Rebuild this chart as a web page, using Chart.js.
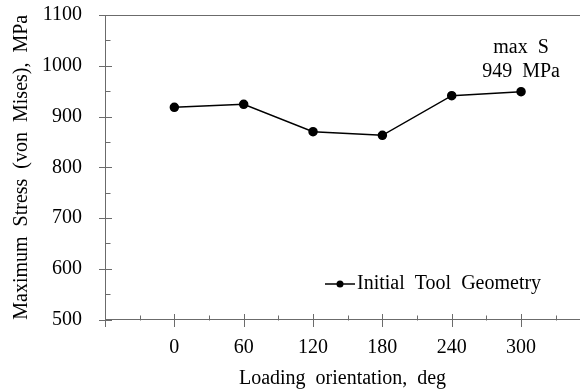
<!DOCTYPE html>
<html>
<head>
<meta charset="utf-8">
<script src="https://cdn.jsdelivr.net/npm/chart.js@4/dist/chart.umd.min.js"></script>
<style>
  html, body { margin: 0; padding: 0; background: #fff; }
  canvas { display: block; }
</style>
</head>
<body>
<canvas id="c" width="580" height="391"></canvas>
<script>
// Loading orientation (deg) and the maximum von Mises stress at each (MPa)
const orientations = [0, 60, 120, 180, 240, 300];
const maxStress = [918, 924, 870, 863, 941, 949];
const seriesName = 'Initial Tool Geometry';
const xTickValues = [-60, 0, 60, 120, 180, 240, 300];
const yTickValues = [500, 600, 700, 800, 900, 1000, 1100];

const FONT = "'Liberation Serif', 'Times New Roman', serif";
const FONT_SIZE = 20;
const WORD_SPACING = '5px';
const AXIS = '#6b6b6b';

// Wider gaps between words, as in the original typesetting
const spacing = {
  id: 'spacing',
  beforeLayout(chart) { chart.ctx.wordSpacing = WORD_SPACING; },
  beforeDraw(chart) { chart.ctx.wordSpacing = WORD_SPACING; }
};

// Excel-style tick marks: major ticks cross the axis, minor ticks point inward
const tickMarks = {
  id: 'tickMarks',
  afterDraw(chart) {
    const { ctx, scales: { x, y } } = chart;
    const ay = Math.round(y.getPixelForValue(y.min)) + 0.5;
    ctx.save();
    ctx.strokeStyle = AXIS;
    ctx.lineWidth = 1;
    ctx.beginPath();
    for (let v = -60; v <= 360; v += 60) {
      const px = Math.round(x.getPixelForValue(v)) + 0.5;
      ctx.moveTo(px, ay - 6.5); ctx.lineTo(px, ay + 6.5);
    }
    for (let v = -30; v <= 360; v += 60) {
      const px = Math.round(x.getPixelForValue(v)) + 0.5;
      ctx.moveTo(px, ay); ctx.lineTo(px, ay - 5);
    }
    const lx = Math.round(x.left) + 0.5;
    for (let v = 500; v <= 1100; v += 100) {
      const py = Math.round(y.getPixelForValue(v)) + 0.5;
      ctx.moveTo(lx - 6.5, py); ctx.lineTo(lx + 6.5, py);
    }
    for (let v = 550; v < 1100; v += 100) {
      const py = Math.round(y.getPixelForValue(v)) + 0.5;
      ctx.moveTo(lx, py); ctx.lineTo(lx + 5, py);
    }
    ctx.stroke();
    ctx.restore();
  }
};

// Legend entry inside the plot, and the label over the highest point
const labels = {
  id: 'labels',
  afterDraw(chart) {
    const { ctx, scales: { x, y } } = chart;
    ctx.save();
    ctx.font = FONT_SIZE + 'px ' + FONT;
    ctx.wordSpacing = WORD_SPACING;
    ctx.fillStyle = '#000';
    ctx.textBaseline = 'middle';

    // legend
    const ly = 284, lx0 = 325, lx1 = 355;
    ctx.strokeStyle = '#000';
    ctx.lineWidth = 1.5;
    ctx.beginPath(); ctx.moveTo(lx0, ly); ctx.lineTo(lx1, ly); ctx.stroke();
    ctx.beginPath(); ctx.arc((lx0 + lx1) / 2, ly, 3.5, 0, Math.PI * 2); ctx.fill();
    ctx.textAlign = 'left';
    ctx.fillText(seriesName, 357, ly);

    // max value note
    let iMax = 0;
    maxStress.forEach((v, i) => { if (v > maxStress[iMax]) iMax = i; });
    const px = x.getPixelForValue(orientations[iMax]);
    const py = y.getPixelForValue(maxStress[iMax]);
    ctx.textAlign = 'center';
    ctx.fillText('max S', px, py - 44);
    ctx.fillText(maxStress[iMax] + ' MPa', px, py - 20);
    ctx.restore();
  }
};

new Chart(document.getElementById('c'), {
  type: 'line',
  data: {
    datasets: [{
      label: seriesName,
      data: orientations.map((o, i) => ({ x: o, y: maxStress[i] })),
      borderColor: '#000',
      backgroundColor: '#000',
      borderWidth: 1.5,
      pointRadius: 4,
      pointHoverRadius: 4,
      tension: 0
    }]
  },
  options: {
    responsive: false,
    animation: false,
    devicePixelRatio: 1,
    layout: { autoPadding: false, padding: { top: 15, right: 0, left: 0, bottom: 0 } },
    plugins: { legend: { display: false }, tooltip: { enabled: false } },
    scales: {
      x: {
        type: 'linear',
        min: -60,
        max: 351,
        afterBuildTicks(scale) { scale.ticks = xTickValues.map(v => ({ value: v })); },
        afterFit(scale) {
          scale.height = 71.5;
          scale.paddingLeft = 0;
          scale.paddingRight = 0;
        },
        grid: { display: false, drawTicks: false },
        border: { display: true, color: AXIS, width: 1 },
        ticks: {
          padding: 16,
          color: '#000',
          font: { family: FONT, size: FONT_SIZE },
          maxRotation: 0,
          autoSkip: false,
          callback: v => (v < 0 ? '' : String(v))
        },
        title: {
          display: true,
          text: 'Loading orientation, deg',
          color: '#000',
          font: { family: FONT, size: FONT_SIZE },
          padding: { top: 4, bottom: 0 }
        }
      },
      y: {
        min: 500,
        max: 1100,
        afterBuildTicks(scale) { scale.ticks = yTickValues.map(v => ({ value: v })); },
        afterFit(scale) {
          scale.width = 105;
          scale.paddingTop = 0;
          scale.paddingBottom = 0;
        },
        grid: {
          drawTicks: false,
          color: ctx => (ctx.tick && ctx.tick.value === 1100 ? AXIS : 'rgba(0,0,0,0)')
        },
        border: { display: true, color: AXIS, width: 1 },
        ticks: {
          padding: 23,
          color: '#000',
          font: { family: FONT, size: FONT_SIZE },
          callback: v => String(v)
        },
        title: {
          display: true,
          text: 'Maximum Stress (von Mises), MPa',
          color: '#000',
          font: { family: FONT, size: FONT_SIZE },
          padding: { top: 10, bottom: 0 }
        }
      }
    }
  },
  plugins: [spacing, tickMarks, labels]
});
</script>
</body>
</html>
